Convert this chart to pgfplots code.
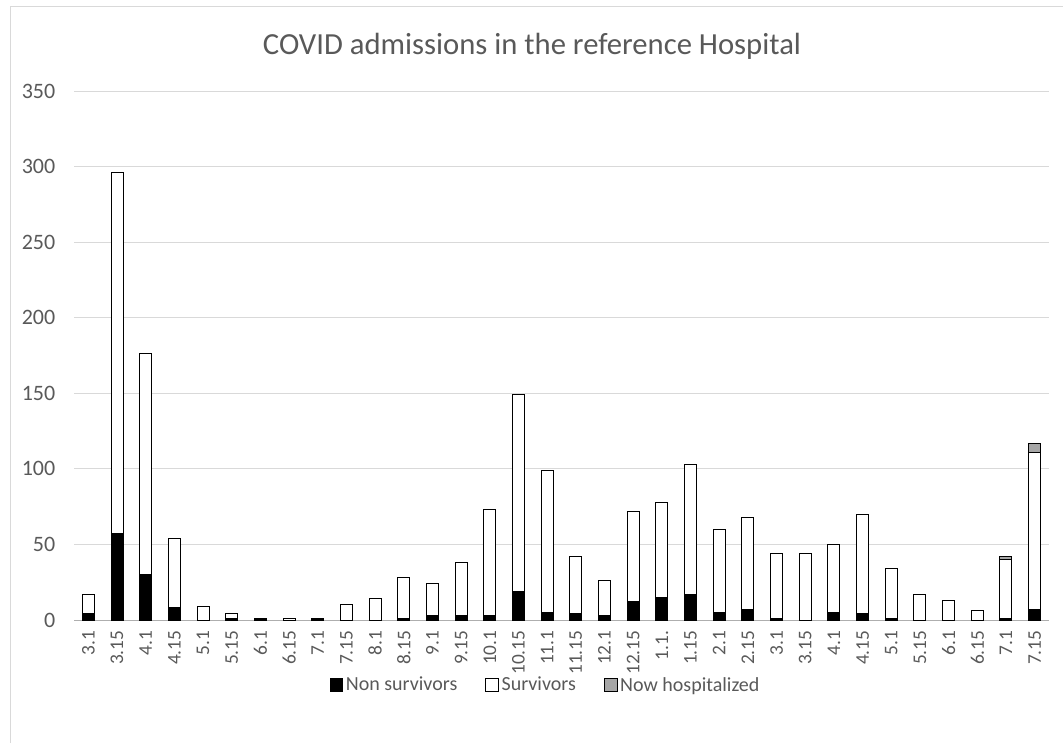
\documentclass[border=0pt]{standalone}
\usepackage{fontspec}
\setmainfont{Carlito}
\usepackage{pgfplots}
\usepackage{pgfplotstable}
\pgfplotsset{compat=1.18}
\definecolor{txt}{HTML}{595959}
\definecolor{gridc}{HTML}{D9D9D9}
\definecolor{hosp}{HTML}{A6A6A6}

\pgfplotstableread{
idx NS S H
0 4 13 0
1 57 239 0
2 30 146 0
3 8 46 0
4 0 9 0
5 1 3 0
6 1 0 0
7 0 1 0
8 1 0 0
9 0 10 0
10 0 14 0
11 1 27 0
12 3 21 0
13 3 35 0
14 3 70 0
15 19 130 0
16 5 94 0
17 4 38 0
18 3 23 0
19 12 60 0
20 15 63 0
21 17 86 0
22 5 55 0
23 7 61 0
24 1 43 0
25 0 44 0
26 5 45 0
27 4 66 0
28 1 33 0
29 0 17 0
30 0 13 0
31 0 6 0
32 1 39 2
33 7 104 6
}\datatable

\begin{document}
\begin{tikzpicture}
\useasboundingbox (0,0) rectangle (797.25pt,557.25pt);
\draw[gridc, line width=0.75pt] (7.5pt,0) -- (7.5pt,552pt) -- (797.25pt,552pt);
\node[text=txt, font=\fontsize{23}{27}\selectfont] at (399pt,522.75pt) {COVID admissions in the reference Hospital};
\begin{axis}[
  at={(55.5pt,92.25pt)}, anchor=south west,
  scale only axis, width=731.25pt, height=396.75pt,
  ybar stacked, bar width=9pt,
  xmin=-0.5, xmax=33.5, ymin=0, ymax=350,
  ytick={0,50,...,350},
  xtick=data,
  xticklabels={3.1,3.15,4.1,4.15,5.1,5.15,6.1,6.15,7.1,7.15,8.1,8.15,9.1,9.15,10.1,10.15,11.1,11.15,12.1,12.15,1.1.,1.15,2.1,2.15,3.1,3.15,4.1,4.15,5.1,5.15,6.1,6.15,7.1,7.15},
  axis x line=bottom, axis y line=left,
  x axis line style={-, draw=gridc!80!black, line width=0.75pt},
  y axis line style={draw=none},
  major tick length=0pt,
  ymajorgrids, major grid style={gridc, line width=0.75pt},
  tick label style={text=txt},
  /pgf/number format/assume math mode=true,
  yticklabel style={xshift=-10.5pt, font=\fontsize{16.5}{19}\selectfont},
  xticklabel style={rotate=90, anchor=east, xshift=-4.5pt, font=\fontsize{14.5}{17}\selectfont},
  legend columns=3,
  legend style={at={(0.484,-0.123)}, anchor=center, draw=none, fill=none,
    font=\fontsize{15}{17}\selectfont, text=txt,
    /tikz/every even column/.append style={column sep=19pt}},
  legend image code/.code={\draw[#1, line width=0.6pt] (0pt,-4.8pt) rectangle (9.6pt,4.8pt);},
  clip=false,
]
\addplot[fill=black, draw=black, line width=0.75pt] table[x=idx, y=NS] {\datatable};
\addplot[fill=white, draw=black, line width=0.75pt] table[x=idx, y=S] {\datatable};
\addplot[fill=hosp, draw=black, line width=0.75pt] table[x=idx, y=H] {\datatable};
\legend{Non survivors, Survivors, Now hospitalized}
\end{axis}
\end{tikzpicture}
\end{document}
